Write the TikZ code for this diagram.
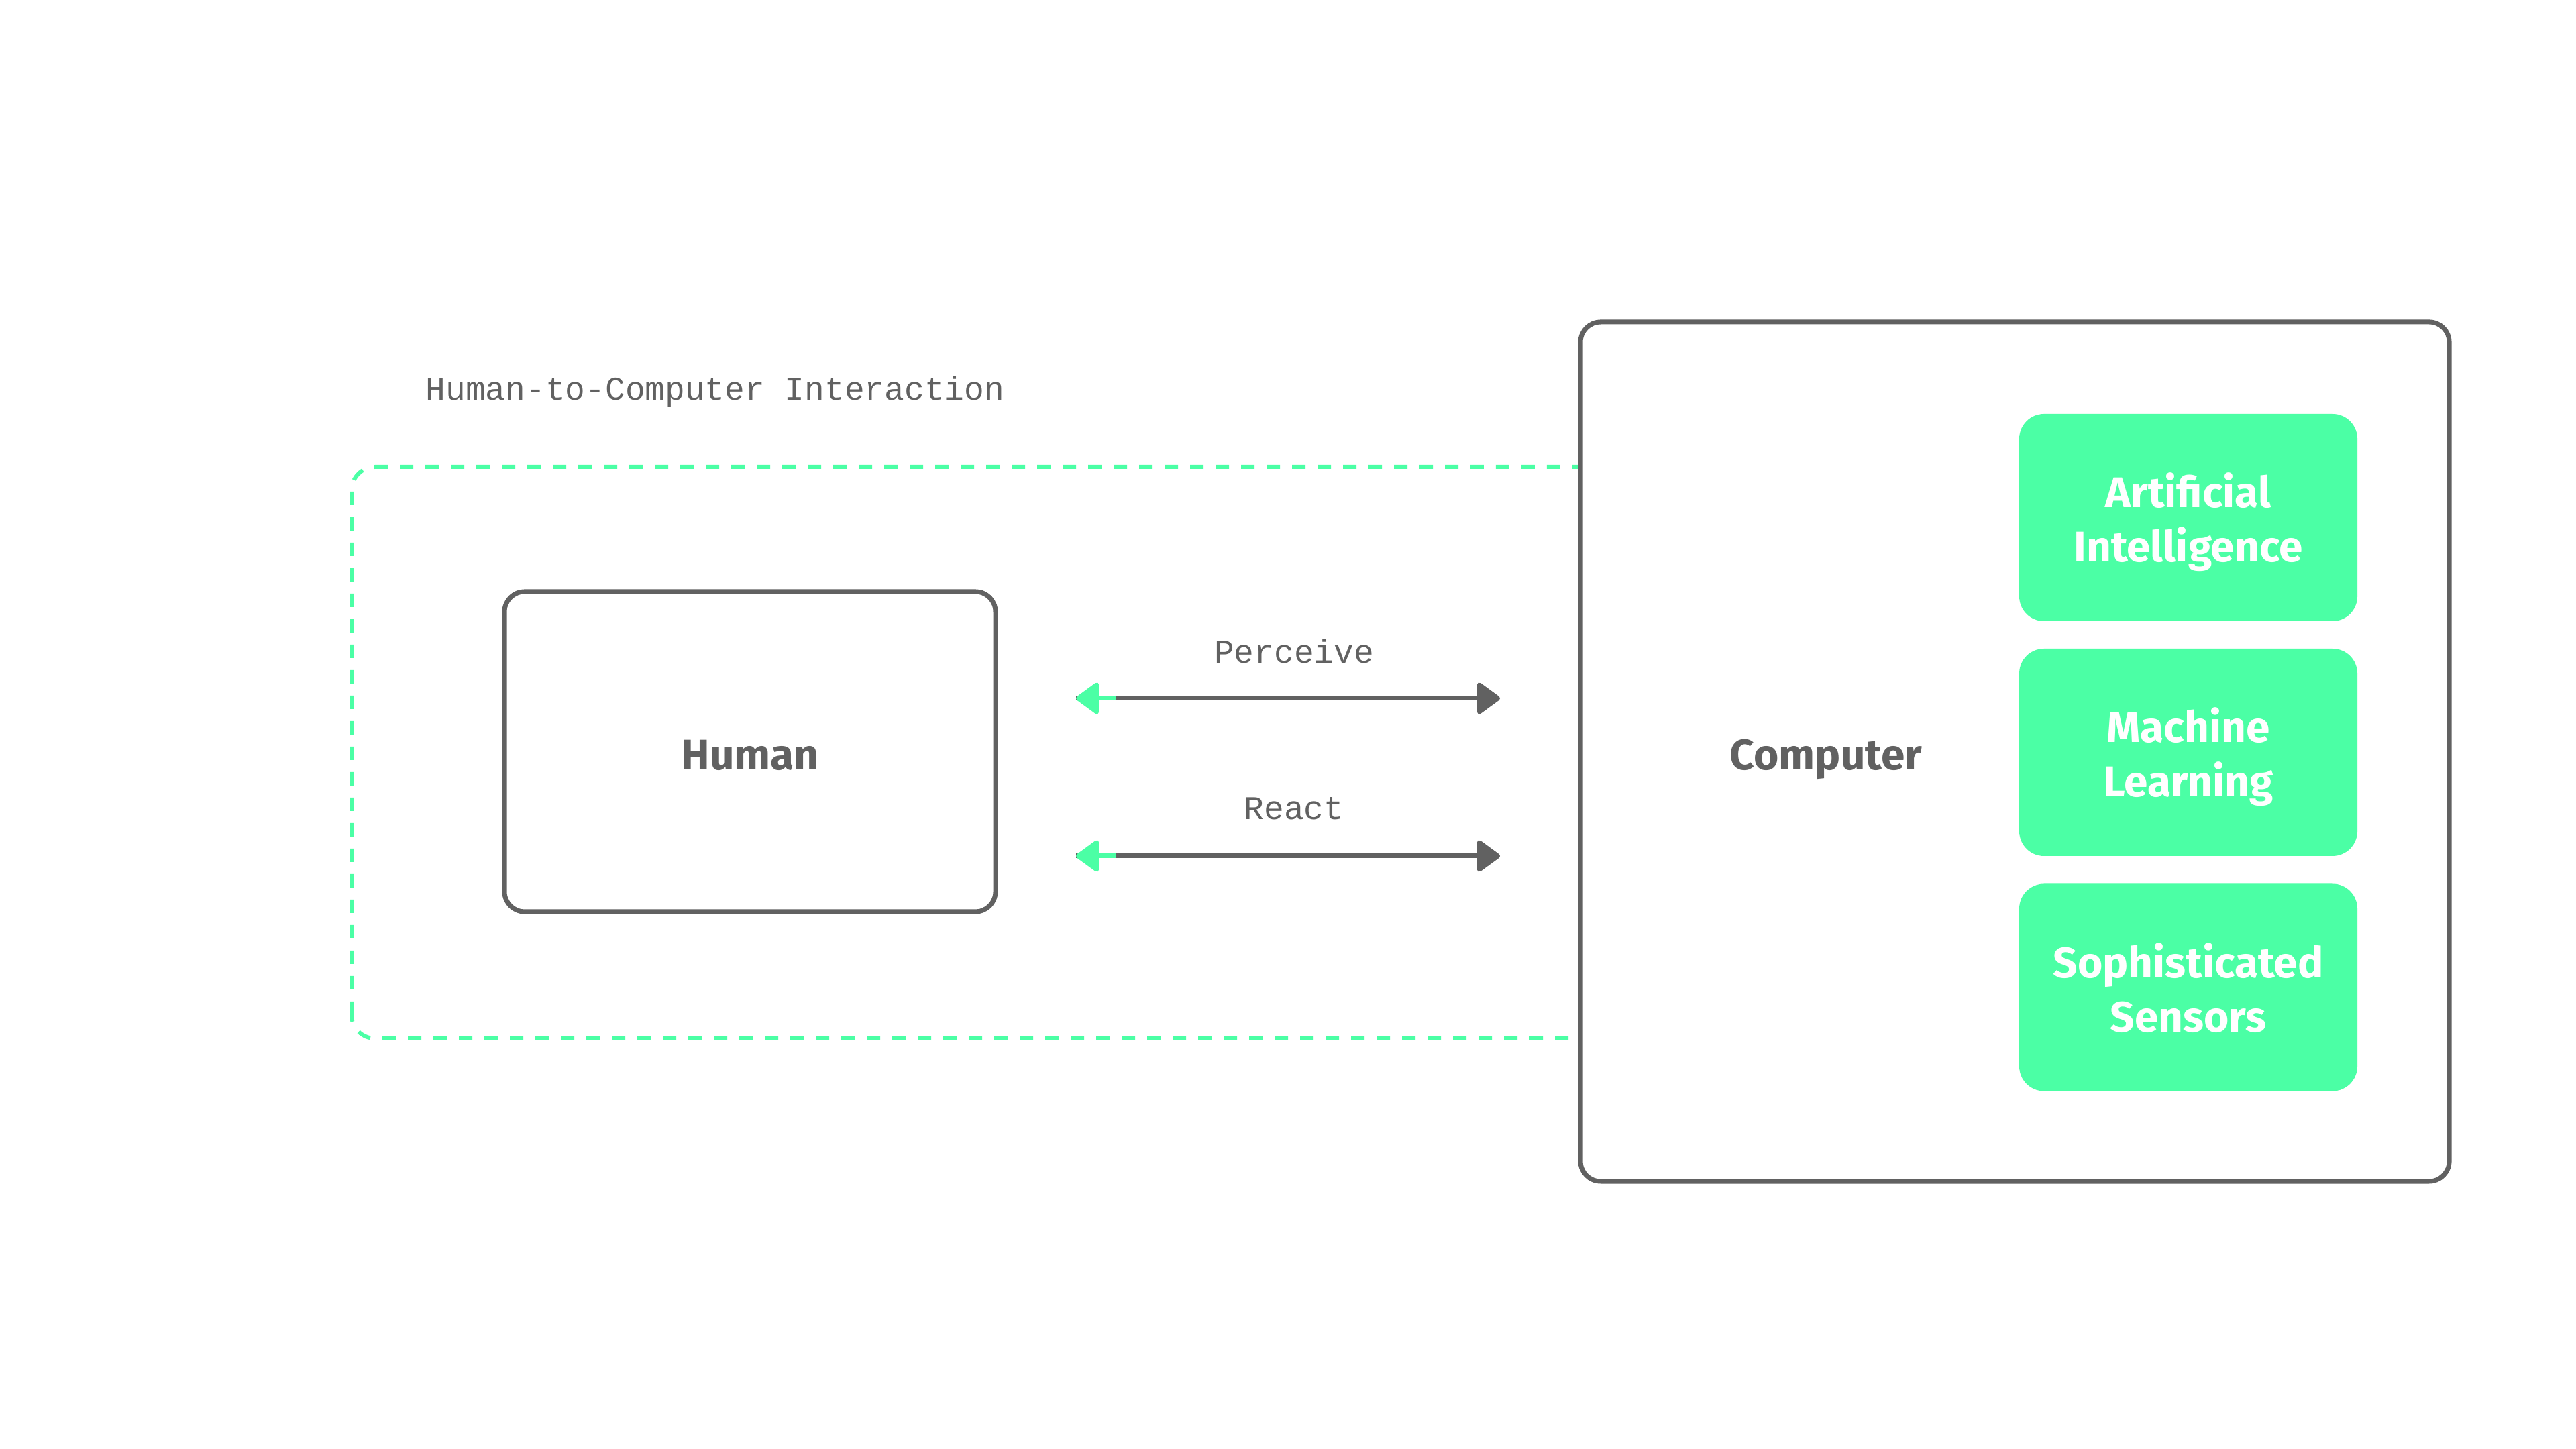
\documentclass[tikz,border=0pt]{standalone}
\usepackage{fontspec}
\setmainfont{Fira Sans}
\setmonofont{Liberation Mono}
\usetikzlibrary{arrows.meta}
\definecolor{mint}{HTML}{4BFFA5}
\definecolor{ink}{HTML}{616161}

\begin{document}
\begin{tikzpicture}[
	box/.style={draw=ink, line width=2pt, rounded corners=0.3cm, fill=white, inner sep=0pt},
	tag/.style={fill=mint, rounded corners=0.37cm, minimum width=5.04cm, minimum height=3.09cm, text=white, text depth=0pt, font=\fontsize{18.2}{23}\selectfont\bfseries, align=center},
	lbl/.style={text=ink, text depth=0pt, font=\fontsize{18.2}{23}\selectfont\bfseries},
	mono/.style={text=ink, font=\fontsize{14.1}{17}\selectfont\ttfamily, inner sep=0pt},
	link/.style={draw=ink, line width=2pt, -{Triangle[length=0.37cm,width=0.52cm,round]}},
	back/.style={draw=mint, line width=2pt, {Triangle[length=0.37cm,width=0.52cm,round]}-}]
				\useasboundingbox (0,0) rectangle (38.4,21.6);
				% interaction zone
				\draw[mint, line width=1.7pt, dash pattern=on 0.2cm off 0.18cm, rounded corners=0.35cm] (5.24,6.12) rectangle (25,14.64);
				\node[mono, anchor=base west](title) at (6.34,15.63){Human-to-Computer Interaction};
				\node[box, minimum width=7.32cm, minimum height=4.77cm](human) at (11.18,10.395){};
				\node[lbl](humanlabel) at (11.18,10.35){Human};
				\node[box, minimum width=12.95cm, minimum height=12.81cm](computer) at (30.035,10.395){};
				\node[lbl](complabel) at (27.22,10.35){Computer};
				\node[tag](ai) at (32.62,13.885){Artificial\\Intelligence};
				\node[tag](ml) at (32.62,10.385){Machine\\Learning};
				\node[tag](ss) at (32.62,6.88){Sophisticated\\Sensors};
				% arrows
				\node[mono, anchor=base](perceive) at (19.29,11.71){Perceive};
				\node[mono, anchor=base](react) at (19.29,9.38){React};
				\coordinate(p1) at (16.04,11.19);
				\coordinate(p2) at (22.36,11.19);
				\coordinate(r1) at (16.04,8.84);
				\coordinate(r2) at (22.36,8.84);
				\draw[link](p1) to (p2);
				\draw[back](p1) to ++(0.6,0);
				\draw[link](r1) to (r2);
				\draw[back](r1) to ++(0.6,0);
			\end{tikzpicture}
\end{document}
